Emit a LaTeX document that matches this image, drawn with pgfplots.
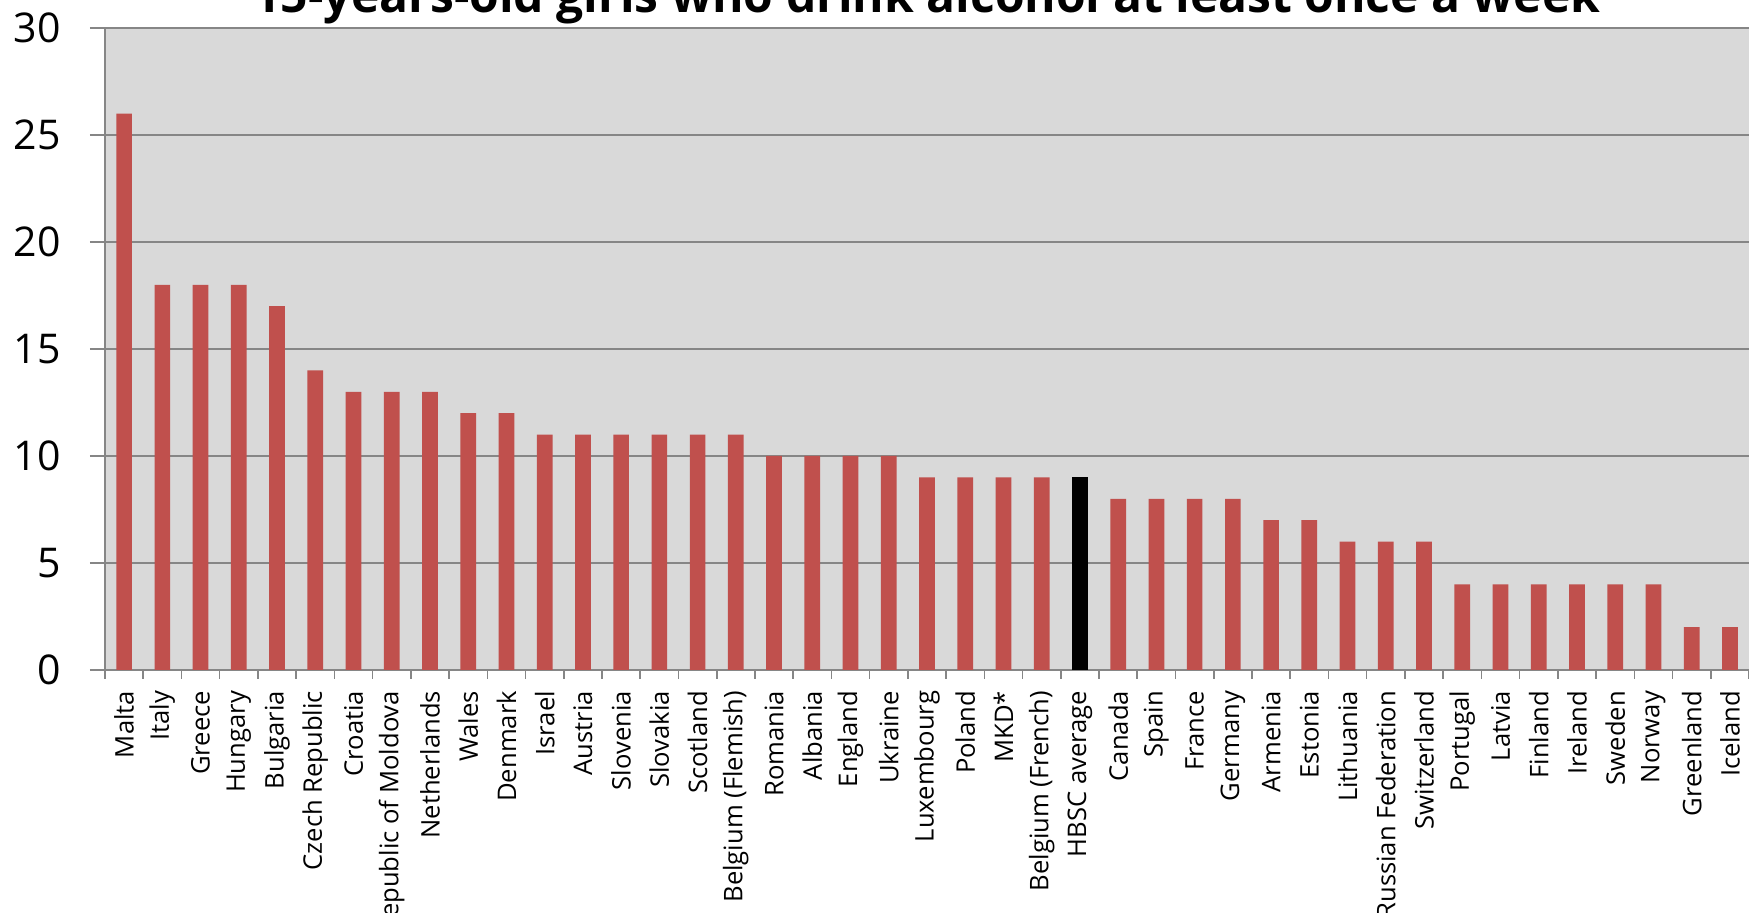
\documentclass[border=0pt]{standalone}
\usepackage{pgfplots}
\pgfplotsset{compat=1.18}
\usepackage{fontspec}
\setmainfont{Open Sans}
\definecolor{barred}{HTML}{C0504D}
\definecolor{bggray}{HTML}{D9D9D9}
\definecolor{linegray}{HTML}{868686}
\begin{document}
\begin{tikzpicture}
\begin{axis}[
  name=ax,
  scale only axis,
  width=822pt, height=321pt,
  xmin=0, xmax=43, ymin=0, ymax=30,
  axis background/.style={fill=bggray},
  axis x line*=bottom, axis y line*=left,
  axis line style={linegray, line width=0.8pt, -},
  ytick={0,5,...,30},
  ymajorgrids, grid style={linegray, line width=0.8pt},
  tick align=outside,
  major tick length=7.5pt,
  tick style={linegray, line width=0.8pt},
  xtick style={/pgfplots/major tick length=4.5pt},
  xtick={0,...,43},
  x tick label as interval,
  xticklabels={Malta,Italy,Greece,Hungary,Bulgaria,Czech Republic,Croatia,Republic of Moldova,Netherlands,Wales,Denmark,Israel,Austria,Slovenia,Slovakia,Scotland,Belgium (Flemish),Romania,Albania,England,Ukraine,Luxembourg,Poland,MKD*,Belgium (French),HBSC average,Canada,Spain,France,Germany,Armenia,Estonia,Lithuania,Russian Federation,Switzerland,Portugal,Latvia,Finland,Ireland,Sweden,Norway,Greenland,Iceland},
  xticklabel style={yshift=-2.8pt, rotate=90, anchor=east, inner sep=0pt, font=\fontsize{12.8}{15}\selectfont},
  yticklabel style={inner sep=0pt, xshift=-14.5pt, font=\fontsize{20.5}{24}\selectfont},
  /pgf/number format/assume math mode=true,
  title={15-years-old girls who drink alcohol at least once a week},
  title style={at={(0.5,1)}, anchor=base, yshift=1.5pt, inner sep=0pt, font=\bfseries\fontsize{24}{28}\selectfont},
  ybar, bar width=7.85pt, bar shift=0pt,
]
\addplot[fill=barred, draw=none] coordinates {
(0.5,26) (1.5,18) (2.5,18) (3.5,18) (4.5,17) (5.5,14) (6.5,13) (7.5,13) (8.5,13) (9.5,12)
(10.5,12) (11.5,11) (12.5,11) (13.5,11) (14.5,11) (15.5,11) (16.5,11) (17.5,10) (18.5,10) (19.5,10)
(20.5,10) (21.5,9) (22.5,9) (23.5,9) (24.5,9)
(26.5,8) (27.5,8) (28.5,8) (29.5,8) (30.5,7) (31.5,7) (32.5,6) (33.5,6) (34.5,6)
(35.5,4) (36.5,4) (37.5,4) (38.5,4) (39.5,4) (40.5,4) (41.5,2) (42.5,2)};
\addplot[fill=black, draw=none] coordinates {(25.5,9)};
\end{axis}
\pgfresetboundingbox
\path[use as bounding box] ([xshift=-52.5pt,yshift=-121.5pt]ax.south west) rectangle ([yshift=14pt]ax.north east);
\end{tikzpicture}
\end{document}
